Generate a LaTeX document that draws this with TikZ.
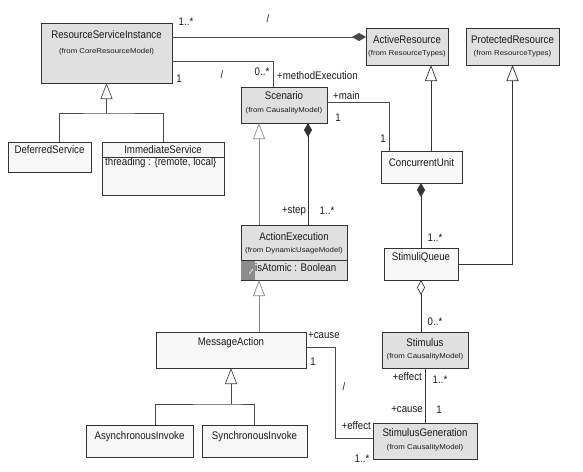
\documentclass[tikz,border=0pt]{standalone}
\usepackage{fontspec}
\setmainfont{Liberation Sans}
\newfontfamily\namefont[FakeStretch=0.88]{Liberation Sans}
\newfontfamily\fromfont[FakeStretch=1.12]{Liberation Sans}
\usetikzlibrary{arrows.meta,calc}
\definecolor{boxgray}{HTML}{E0E0E0}
\definecolor{boxwhite}{HTML}{F8F8F8}
\definecolor{edgec}{HTML}{333333}
\definecolor{conn}{HTML}{4A4A4A}
\definecolor{connlight}{HTML}{8A8A8A}
\definecolor{icongray}{HTML}{8C8C8C}
\definecolor{txt}{HTML}{1A1A1A}
\begin{document}
\begin{tikzpicture}[x=1pt,y=-1pt,
  cls/.style={draw=edgec, line width=0.8pt, anchor=north west, inner sep=0pt, outer sep=0pt},
  grayc/.style={cls, fill=boxgray},
  whitec/.style={cls, fill=boxwhite},
  nm/.style={font=\namefont\fontsize{11}{12}\selectfont, text=txt, inner sep=0pt},
  frm/.style={font=\fromfont\fontsize{7}{8}\selectfont, text=txt, inner sep=0pt},
  lbl/.style={font=\namefont\fontsize{11}{12}\selectfont, text=txt, inner sep=0pt},
  assoc/.style={draw=conn, line width=0.7pt},
  assocl/.style={draw=connlight, line width=0.7pt},
  gentip/.style={-{Triangle[open, length=16pt, width=12pt, fill=white]}},
  comptip/.style={-{Diamond[length=14pt, width=8pt]}},
  aggtip/.style={{Diamond[open, length=15pt, width=8pt, fill=white]}-}
]
\useasboundingbox (0,0) rectangle (583,471);
\fill[white] (0,0) rectangle (583,471);

% ---------- classes ----------
\node[grayc, minimum width=131pt, minimum height=60pt] (rsi) at (41,23) {};
\node[nm] (rsi-n) at (106.5,35) {ResourceServiceInstance};
\node[frm] (rsi-f) at (106.5,52) {(from CoreResourceModel)};

\node[grayc, minimum width=82pt, minimum height=37pt] (ar) at (366,28) {};
\node[nm] (ar-n) at (407,40) {ActiveResource};
\node[frm] (ar-f) at (407,54) {(from ResourceTypes)};

\node[grayc, minimum width=93pt, minimum height=37pt] (pr) at (466,28) {};
\node[nm] (pr-n) at (512.5,40) {ProtectedResource};
\node[frm] (pr-f) at (512.5,54) {(from ResourceTypes)};

\node[grayc, minimum width=86pt, minimum height=36pt] (sc) at (241,87) {};
\node[nm] (sc-n) at (284,96) {Scenario};
\node[frm] (sc-f) at (284,111) {(from CausalityModel)};

\node[whitec, minimum width=83pt, minimum height=30pt] (ds) at (8,142) {};
\node[nm] (ds-n) at (49.5,150) {DeferredService};

\node[whitec, minimum width=122pt, minimum height=53pt] (is) at (102,142) {};
\node[nm] (is-n) at (163,149.5) {ImmediateService};
\draw[draw=edgec, line width=0.8pt] ([yshift=-15pt]is.north west) -- ([yshift=-15pt]is.north east);
\node[nm, anchor=west] (is-a) at (105,163) {threading : \{remote, local\}};

\node[whitec, minimum width=81pt, minimum height=32pt] (cu) at (381,151) {};
\node[nm] (cu-n) at (421.5,163) {ConcurrentUnit};

\node[whitec, minimum width=74pt, minimum height=32pt] (sq) at (384,248) {};
\node[nm] (sq-n) at (421,258) {StimuliQueue};

\node[grayc, minimum width=86pt, minimum height=36pt] (st) at (382,332) {};
\node[nm] (st-n) at (425,343) {Stimulus};
\node[frm] (st-f) at (425,357) {(from CausalityModel)};

\node[grayc, minimum width=104pt, minimum height=36pt] (sg) at (373,423) {};
\node[nm] (sg-n) at (425,433) {StimulusGeneration};
\node[frm] (sg-f) at (425,448) {(from CausalityModel)};

\node[whitec, minimum width=150pt, minimum height=36pt] (ma) at (156,332) {};
\node[nm] (ma-n) at (231,343) {MessageAction};

\node[whitec, minimum width=107pt, minimum height=32pt] (ai) at (86,425) {};
\node[nm] (ai-n) at (139.5,437) {AsynchronousInvoke};

\node[whitec, minimum width=105pt, minimum height=32pt] (si) at (202,425) {};
\node[nm] (si-n) at (254.5,437) {SynchronousInvoke};

\node[grayc, minimum width=106pt, minimum height=55pt] (ae) at (241,225) {};
\node[nm] (ae-n) at (294,237) {ActionExecution};
\node[frm] (ae-f) at (294,251) {(from DynamicUsageModel)};
\fill[icongray] ([xshift=0.4pt,yshift=-35.4pt]ae.north west) rectangle ([xshift=14pt,yshift=0.4pt]ae.south west);
\draw[white, line width=0.6pt] ([xshift=8pt,yshift=6pt]ae.south west) -- ([xshift=12pt,yshift=11pt]ae.south west);
\draw[draw=edgec, line width=0.8pt] ([yshift=-35pt]ae.north west) -- ([yshift=-35pt]ae.north east);
\node[nm, anchor=west] (ae-a) at (255,268) {isAtomic : Boolean};

% ---------- connection points ----------
\coordinate (ar-w) at ([yshift=-9pt]ar.north west);
\coordinate (rsi-e1) at (rsi.east |- ar-w);
\coordinate (rsi-e2) at ([yshift=-38pt]rsi.north east);
\coordinate (sc-t) at ([xshift=32pt]sc.north west);
\coordinate (sc-e) at ([yshift=-15pt]sc.north east);
\coordinate (cu-t) at ([xshift=8pt]cu.north west);
\coordinate (cu-t2) at ([xshift=50pt]cu.north west);
\coordinate (ae-t1) at ([xshift=18pt]ae.north west);
\coordinate (ae-t2) at ([xshift=67pt]ae.north west);
\coordinate (ae-b) at ([xshift=18pt]ae.south west);
\coordinate (ma-e) at ([yshift=-15pt]ma.north east);
\coordinate (sg-w) at ([yshift=-15pt]sg.north west);
\coordinate (ds-t) at ([xshift=51pt]ds.north west);
\coordinate (ai-t) at ([xshift=69pt]ai.north west);
\coordinate (j1) at ([yshift=-30pt]rsi.south);
\coordinate (j2) at ([yshift=-36pt]ma.south);

% ---------- connectors ----------
\draw[assoc, comptip] (rsi-e1) -- (ar-w);
\draw[assoc] (rsi-e2) -| (sc-t);
\draw[assoc] (sc-e) -| (cu-t);
\draw[draw=edgec, line width=0.7pt, gentip] (cu-t2) -- (cu-t2 |- ar.south);
\draw[draw=edgec, line width=0.7pt, gentip] (sq.east) -| (pr.south);
\draw[draw=edgec, line width=0.7pt, comptip] (sq.north) -- (sq.north |- cu.south);
\draw[draw=edgec, line width=0.7pt, aggtip] (sq.south) -- (sq.south |- st.north);
\draw[draw=edgec, line width=0.7pt] (st.south) -- (sg.north);
\draw[assoc] (ma-e) -- ++(29,0) |- (sg-w);
\draw[assocl, gentip] (ae-t1) -- (ae-t1 |- sc.south);
\draw[draw=edgec, line width=0.7pt, comptip] (ae-t2) -- (ae-t2 |- sc.south);
\draw[assocl, gentip] (ae-b |- ma.north) -- (ae-b);
\draw[assoc] (ds-t) |- (j1) -| (is.north);
\draw[assoc, gentip] (j1) -- (rsi.south);
\draw[assoc] (ai-t) |- (j2) -| (si.north);
\draw[assoc, gentip] (j2) -- (ma.south);

% ---------- labels ----------
\node[lbl] (l1) at (186,22) {1..*};
\node[lbl] (l2) at (268,19) {/};
\node[lbl] (l3) at (179,79) {1};
\node[lbl] (l4) at (222,75) {/};
\node[lbl] (l5) at (262,72) {0..*};
\node[lbl, anchor=west] (l6) at (277,76) {+methodExecution};
\node[lbl, anchor=west] (l7) at (333,96) {+main};
\node[lbl] (l8) at (338,118) {1};
\node[lbl] (l9) at (383,139) {1};
\node[lbl] (l10) at (294,211) {+step};
\node[lbl] (l11) at (327,211) {1..*};
\node[lbl] (l12) at (435,238) {1..*};
\node[lbl] (l13) at (435,322) {0..*};
\node[lbl, anchor=west] (l14) at (308,335) {+cause};
\node[lbl] (l15) at (313,362) {1};
\node[lbl] (l16) at (344,387) {/};
\node[lbl, anchor=east] (l17) at (422,377) {+effect};
\node[lbl] (l18) at (440,380) {1..*};
\node[lbl, anchor=east] (l19) at (423,409) {+cause};
\node[lbl] (l20) at (439,410) {1};
\node[lbl, anchor=east] (l21) at (371,426) {+effect};
\node[lbl] (l22) at (362,459) {1..*};
\end{tikzpicture}
\end{document}
